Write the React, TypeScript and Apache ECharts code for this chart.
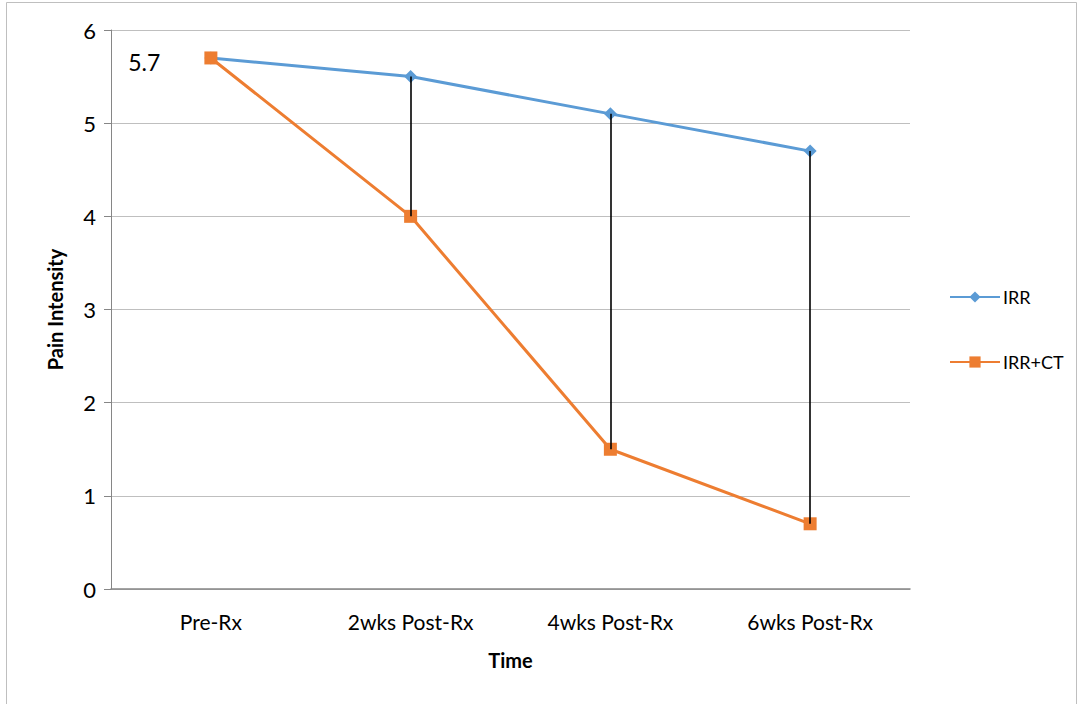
import React, { useEffect, useRef } from "react";
import * as echarts from "echarts";

const categories = ["Pre-Rx", "2wks Post-Rx", "4wks Post-Rx", "6wks Post-Rx"];
const irr = [5.7, 5.5, 5.1, 4.7];
const irrCt = [5.7, 4.0, 1.5, 0.7];
const yTicks = { min: 0, max: 6, interval: 1 };
const dropIndices = [1, 2, 3];

const FONT = "Lato, 'Open Sans', 'Liberation Sans', sans-serif";

export default function App() {
  const ref = useRef<HTMLDivElement>(null);
  useEffect(() => {
    if (!ref.current) return;
    const chart = echarts.init(ref.current, null, { renderer: "svg" });
    const dropLines = dropIndices.map((i) => [
      { coord: [i, irr[i]] },
      { coord: [i, irrCt[i]] },
    ]);
    chart.setOption({
      animation: false,
      backgroundColor: "#ffffff",
      textStyle: { fontFamily: FONT },
      graphic: [
        {
          type: "rect",
          shape: { x: 6.5, y: 2.5, width: 1070, height: 720 },
          style: { fill: "none", stroke: "#BFBFBF", lineWidth: 1 },
          silent: true,
          z: -10,
        },
      ],
      grid: { left: 111, right: 168, top: 30, bottom: 115, containLabel: false },
      legend: {
        orient: "vertical",
        left: 944,
        top: 283,
        itemWidth: 50,
        itemHeight: 14,
        itemGap: 47,
        textStyle: { fontFamily: FONT, fontSize: 18, color: "#000", padding: [0, 0, 0, -2] },
        data: ["IRR", "IRR+CT"],
      },
      xAxis: {
        type: "category",
        data: categories,
        boundaryGap: true,
        name: "Time",
        nameLocation: "middle",
        nameGap: 61,
        nameTextStyle: { fontFamily: FONT, fontSize: 20, fontWeight: "bold", color: "#000" },
        axisLine: { show: true, lineStyle: { color: "#868686", width: 1.5 } },
        axisTick: { show: false },
        axisLabel: { fontFamily: FONT, fontSize: 21, color: "#000", margin: 22 },
        splitLine: { show: false },
      },
      yAxis: {
        type: "value",
        min: yTicks.min,
        max: yTicks.max,
        interval: yTicks.interval,
        name: "Pain Intensity",
        nameLocation: "middle",
        nameGap: 46,
        nameTextStyle: { fontFamily: FONT, fontSize: 20, fontWeight: "bold", color: "#000" },
        axisLine: { show: true, lineStyle: { color: "#868686", width: 1 } },
        axisTick: { show: true, length: 7, lineStyle: { color: "#868686" } },
        axisLabel: { fontFamily: FONT, fontSize: 22, color: "#000", margin: 15 },
        splitLine: { show: true, lineStyle: { color: "#BFBFBF", width: 1.2 } },
      },
      series: [
        {
          name: "IRR",
          type: "line",
          data: irr,
          color: "#5B9BD5",
          symbol: "diamond",
          symbolSize: 13,
          lineStyle: { width: 3, color: "#5B9BD5" },
          itemStyle: { color: "#5B9BD5" },
          z: 3,
          markLine: {
            silent: true,
            symbol: "none",
            label: { show: false },
            lineStyle: { type: "solid", color: "#000", width: 1.6 },
            data: dropLines,
            z: 5,
          },
        },
        {
          name: "IRR+CT",
          type: "line",
          data: irrCt.map((v, i) =>
            i === 0
              ? {
                  value: v,
                  label: {
                    show: true,
                    position: "left",
                    distance: 44,
                    offset: [0, 4],
                    fontFamily: FONT,
                    fontSize: 23,
                    color: "#000",
                    formatter: "{c}",
                  },
                }
              : v
          ),
          color: "#ED7D31",
          symbol: "rect",
          symbolSize: 13,
          lineStyle: { width: 3, color: "#ED7D31" },
          itemStyle: { color: "#ED7D31" },
          z: 4,
        },
      ],
    });
    return () => chart.dispose();
  }, []);
  return (
    <div
      ref={ref}
      style={{ position: "fixed", left: 0, top: 0, width: 1078, height: 704 }}
    />
  );
}
